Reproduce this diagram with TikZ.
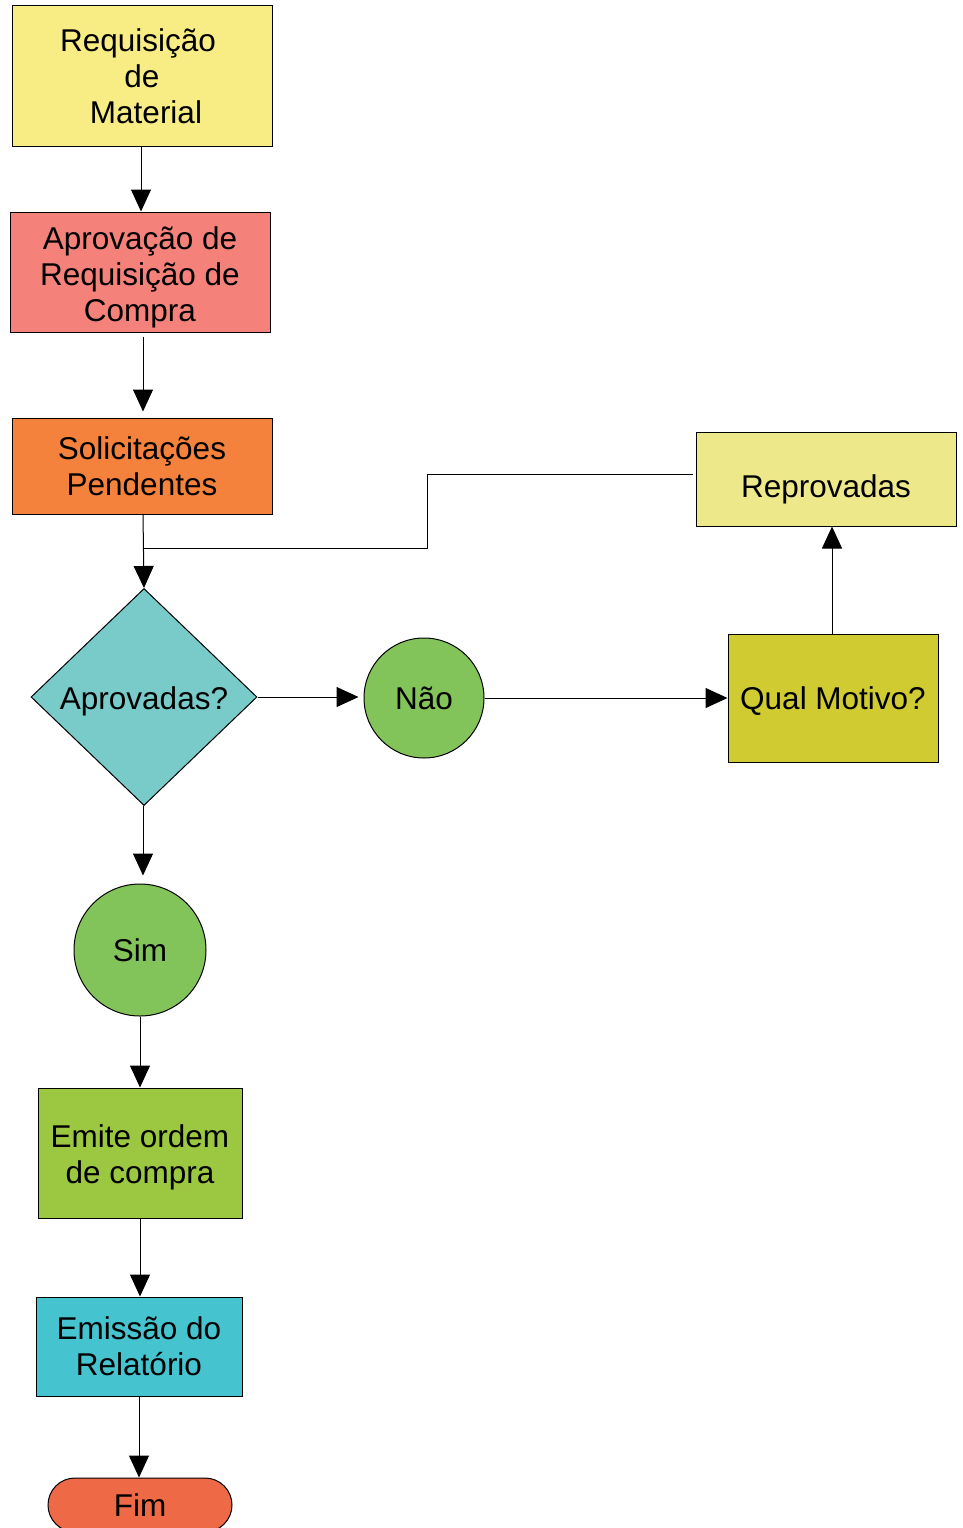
\documentclass[tikz,border=0pt]{standalone}
\usepackage{fontspec}
\setmainfont{Liberation Sans}
\usetikzlibrary{arrows.meta,shapes.geometric,shapes.misc}

\definecolor{cReq}{HTML}{F8EC84}
\definecolor{cAprov}{HTML}{F4827A}
\definecolor{cSolic}{HTML}{F4823C}
\definecolor{cDecis}{HTML}{78CBC9}
\definecolor{cGreen}{HTML}{82C45A}
\definecolor{cMotivo}{HTML}{CFCB30}
\definecolor{cReprov}{HTML}{EDE98B}
\definecolor{cOrdem}{HTML}{9BC840}
\definecolor{cRelat}{HTML}{45C3CF}
\definecolor{cFim}{HTML}{EE6946}

% invisible strut that lowers a multi-line label
\newcommand{\toplift}[1]{\rule{0pt}{#1}}

\begin{document}
\begin{tikzpicture}[x=1pt,y=-1pt,
  every node/.style={font=\fontsize{31.5}{36}\selectfont, align=center, inner sep=0pt},
  box/.style={draw=black, line width=1pt, rectangle},
  conn/.style={draw=black, line width=1pt, -{Triangle[width=20pt,length=22pt]}},
  plain/.style={draw=black, line width=1pt}]

\useasboundingbox (0,0) rectangle (963,1528);

% process boxes
\node[box, fill=cReq, minimum width=260pt, minimum height=140pt] (req) at (142,76)
  {Requisição\hspace*{8pt}\\de\\\hspace*{8pt}Material};
\node[box, fill=cAprov, minimum width=260pt, minimum height=120pt] (aprov) at (140,272)
  {\toplift{34pt}Aprovação de\\Requisição de\\Compra};
\node[box, fill=cSolic, minimum width=260pt, minimum height=96pt] (solic) at (142,466)
  {Solicitações\\Pendentes};
\node[draw=black, line width=1pt, diamond, fill=cDecis, aspect=1.04, text height=31pt,
  minimum width=226pt, minimum height=217pt] (dec) at (144,697) {Aprovadas?};
\node[draw=black, line width=1pt, circle, fill=cGreen, minimum size=120pt] (nao) at (424,698) {Não};
\node[box, fill=cMotivo, minimum width=210pt, minimum height=128pt, text height=29pt] (motivo) at (833,698)
  {Qual Motivo?};
\node[box, fill=cReprov, minimum width=260pt, minimum height=94pt, text height=40pt, text depth=4pt] (reprov) at (826,479)
  {Reprovadas};
\node[draw=black, line width=1pt, circle, fill=cGreen, minimum size=132pt] (sim) at (140,950) {Sim};
\node[box, fill=cOrdem, minimum width=204pt, minimum height=130pt] (ordem) at (140,1153)
  {\toplift{31pt}Emite ordem\\de compra};
\node[box, fill=cRelat, minimum width=206pt, minimum height=99pt] (relat) at (139,1346.5)
  {Emissão do\\Relatório};
\node[draw=black, line width=1pt, rounded rectangle, fill=cFim,
  minimum width=184pt, minimum height=54pt] (fim) at (140,1505) {Fim};

% connectors
\draw[conn] ([xshift=-1pt]req.south) -- ([xshift=-1pt]req.south |- aprov.north);
\draw[conn, shorten <=4pt, shorten >=6pt] ([xshift=3pt]aprov.south) -- ([xshift=3pt]aprov.south |- solic.north);
\draw[conn] ([xshift=1pt]solic.south) -- (dec.north);
\coordinate (join) at (143,548);
\draw[plain] ([xshift=-3pt,yshift=5pt]reprov.west) -| (427,548) -- (join);
\draw[conn, shorten >=5pt] (dec.east) -- (dec.east -| nao.west);
\draw[conn] (nao.east) -- (motivo.west);
\draw[conn] ([xshift=-1pt]motivo.north) -- ([xshift=-1pt]motivo.north |- reprov.south);
\draw[conn, shorten >=8pt] ([xshift=-1pt]dec.south) -- ([xshift=-1pt]dec.south |- sim.north);
\draw[conn] (sim.south) -- (sim.south |- ordem.north);
\draw[conn] (ordem.south) -- (ordem.south |- relat.north);
\draw[conn] (relat.south) -- (relat.south |- fim.north);
\end{tikzpicture}
\end{document}
